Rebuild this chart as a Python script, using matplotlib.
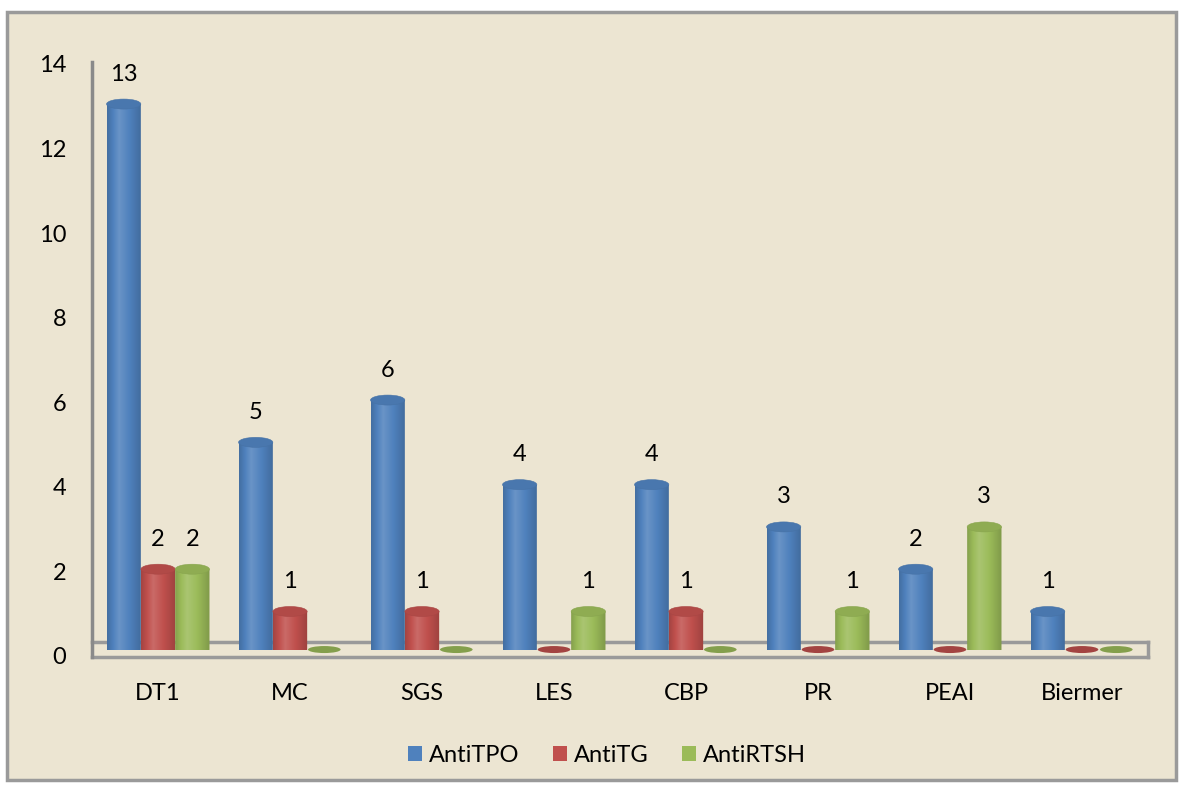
import numpy as np
import matplotlib
matplotlib.use("Agg")
import matplotlib.pyplot as plt
from matplotlib.patches import Ellipse, Rectangle, Polygon, Patch
from matplotlib.colors import to_rgb

categories = ["DT1", "MC", "SGS", "LES", "CBP", "PR", "PEAI", "Biermer"]
series_names = ["AntiTPO", "AntiTG", "AntiRTSH"]
anti_tpo = [13, 5, 6, 4, 4, 3, 2, 1]
anti_tg = [2, 1, 1, 0, 1, 0, 0, 0]
anti_rtsh = [2, 0, 0, 1, 0, 1, 3, 0]
y_ticks = [0, 2, 4, 6, 8, 10, 12, 14]

colors = ["#4F81BD", "#C0504D", "#9BBB59"]
bg = "#ECE5D2"

plt.rcParams['font.family'] = ['Lato', 'DejaVu Sans']

W, H = 1182, 789
fig = plt.figure(figsize=(W / 100, H / 100), dpi=100)
fig.patch.set_facecolor("white")

# outer panel with gray border
fig.patches.append(Rectangle((7 / W, 1 - 780 / H), (1176 - 7) / W, (780 - 12) / H,
                             transform=fig.transFigure, facecolor=bg,
                             edgecolor="#9A9A9A", linewidth=2.5, zorder=-5))

ax = fig.add_axes([92 / W, 1 - 658 / H, (1148 - 92) / W, (658 - 66) / H], zorder=2)
ax.set_xlim(-0.5, len(categories) - 0.5)
ax.set_ylim(0, 14)
ax.axis("off")
ax.patch.set_alpha(0)

px_per_unit = (658 - 66) / 14.0
ell_h = 10 / px_per_unit
base = 0.2
bw = 0.26
offsets = [-0.26, 0.0, 0.26]

# floor
floor_lo, floor_hi = 0.02, 0.38
gray = "#9A9A9A"
ax.plot([-0.5, 7.5], [floor_hi, floor_hi], color=gray, lw=2.5, zorder=1, clip_on=False)
ax.plot([-0.5, 7.5], [floor_lo, floor_lo], color=gray, lw=2.5, zorder=1, clip_on=False)
ax.plot([7.5, 7.5], [floor_lo, floor_hi], color=gray, lw=2.5, zorder=1, clip_on=False)
ax.plot([-0.5, -0.5], [floor_lo, 14.09], color="#8A8A8A", lw=2.5, zorder=1, clip_on=False)

def shade(c, f):
    r = np.array(to_rgb(c))
    if f >= 0:
        return r + (1 - r) * f
    return r * (1 + f)

def cylinder(x, v, c, z):
    x0, x1 = x - bw / 2, x + bw / 2
    top = v + 0.1
    if v <= 0:
        ax.add_patch(Ellipse((x, base), bw * 0.95, ell_h * 0.7, facecolor=shade(c, -0.15),
                             edgecolor="none", zorder=z))
        return
    t = np.linspace(0, 1, 200)
    prof = np.where(t < 0.35, -0.25 + 0.5 * (t / 0.35), 0.25 - 0.55 * ((t - 0.35) / 0.65))
    img = np.array([shade(c, f * 0.6) for f in prof])[None, :, :]
    im = ax.imshow(img, extent=[x0, x1, base, top], aspect="auto", zorder=z,
                   interpolation="bilinear")
    verts = [(x0, top), (x0, base)]
    th = np.linspace(np.pi, 2 * np.pi, 40)
    verts += [(x + bw / 2 * np.cos(a), base + ell_h / 2 * np.sin(a)) for a in th]
    verts += [(x1, top), (x0, top)]
    clip = Polygon(verts, closed=True, transform=ax.transData, facecolor="none",
                   edgecolor="none")
    ax.add_patch(clip)
    im.set_clip_path(clip)
    ax.add_patch(Ellipse((x, top), bw, ell_h, facecolor=shade(c, -0.08),
                         edgecolor=shade(c, -0.12), lw=0.4, zorder=z + 0.1))
    ax.text(x, v + 0.81, str(v), ha="center", va="center", fontsize=17, color="black",
            zorder=10)

series = [anti_tpo, anti_tg, anti_rtsh]
for i, cat in enumerate(categories):
    for s, vals in enumerate(series):
        cylinder(i + offsets[s], vals[i], colors[s], 3 + s * 0.01 + i * 0.001)
    ax.text(i, -35 / px_per_unit, cat, ha="center", va="center", fontsize=17, clip_on=False)

ax.set_ylim(0, 14)
ax.set_xlim(-0.5, len(categories) - 0.5)

for t in y_ticks:
    ax.text(-0.5 - 26 / 132.2, t, str(t), ha="right", va="center", fontsize=17, clip_on=False)

handles = [Patch(facecolor=c, edgecolor="none") for c in colors]
fig.legend(handles, series_names, loc="center", bbox_to_anchor=(607 / W, 1 - 755 / H), ncol=3,
           frameon=False, fontsize=17, handlelength=0.6, handleheight=0.6, handletextpad=0.3,
           columnspacing=1.4)

fig.savefig("out.png", dpi=100, facecolor=fig.get_facecolor())
